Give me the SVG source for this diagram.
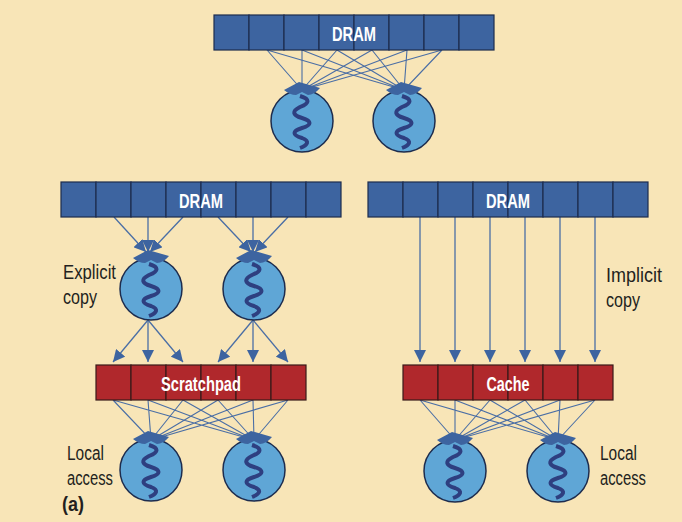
<svg xmlns="http://www.w3.org/2000/svg" xmlns:xlink="http://www.w3.org/1999/xlink" width="682" height="522" viewBox="0 0 682 522">
<style>
.dram{fill:#3d64a0;stroke:#1d2c4e;stroke-width:1.2}
.red{fill:#b0282c;stroke:#3a1a1a;stroke-width:1.2}
.lbl{font-family:"Liberation Sans",sans-serif;font-size:20px;fill:#231f20}
.wl{font-family:"Liberation Sans",sans-serif;font-size:21px;font-weight:bold;fill:#fff;text-anchor:middle}
.ln{stroke:#4a6ea5;stroke-width:1.1;fill:none}
.ar line{stroke:#4a6ea5;stroke-width:1.3;marker-end:url(#ah)}
</style>
<defs>
<marker id="ah" viewBox="0 0 10 10" refX="10" refY="5" markerWidth="12" markerHeight="12" orient="auto" markerUnits="userSpaceOnUse"><path d="M0,0 L10,5 L0,10 z" fill="#3d64a0"/></marker>
<g id="core">
<circle cx="0" cy="0" r="31" fill="#5fa6d6" stroke="#1d2c4e" stroke-width="1.5"/>
<path d="M-18,-31 L-3,-39 L18,-33 Q12,-26 6,-26 L0,-29 L-6,-26 Q-12,-26 -18,-31 z" fill="#3d64a0"/>
<path d="M-2,-25 C8,-22 8,-18 -2,-14 C-10,-10 -10,-6 0,-3 C10,0 10,4 0,7 C-10,10 -10,14 0,17 C8,20 6,24 -2,27" stroke="#2e3f80" stroke-width="4" fill="none"/>
</g>
</defs>
<rect width="682" height="522" fill="#f8e5b7"/>
<g id="connectors">
<path class="ln" d="M267,50L302,90M302,50L302,90M337,50L302,90M372,50L302,90M407,50L302,90M442,50L302,90"/>
<path class="ln" d="M267,50L404,90M302,50L404,90M337,50L404,90M372,50L404,90M407,50L404,90M442,50L404,90"/>
<g class="ar">
<line x1="114" y1="217" x2="146" y2="252"/><line x1="148" y1="217" x2="148" y2="252"/><line x1="183" y1="217" x2="150" y2="252"/>
<line x1="218" y1="217" x2="251" y2="252"/><line x1="253" y1="217" x2="253" y2="252"/><line x1="288" y1="217" x2="255" y2="252"/>
<line x1="148" y1="320" x2="113" y2="362"/><line x1="148" y1="320" x2="148" y2="362"/><line x1="148" y1="320" x2="183" y2="362"/>
<line x1="253" y1="320" x2="218" y2="362"/><line x1="253" y1="320" x2="253" y2="362"/><line x1="253" y1="320" x2="288" y2="362"/>
<line x1="420" y1="217" x2="420" y2="362"/><line x1="455" y1="217" x2="455" y2="362"/><line x1="490" y1="217" x2="490" y2="362"/>
<line x1="525" y1="217" x2="525" y2="362"/><line x1="560" y1="217" x2="560" y2="362"/><line x1="595" y1="217" x2="595" y2="362"/>
</g>
<path class="ln" d="M113,400L151,440M148,400L151,440M183,400L151,440M218,400L151,440M253,400L151,440M288,400L151,440M113,400L254,440M148,400L254,440M183,400L254,440M218,400L254,440M253,400L254,440M288,400L254,440"/>
<path class="ln" d="M420,400L455,440M455,400L455,440M490,400L455,440M525,400L455,440M560,400L455,440M595,400L455,440M420,400L558,440M455,400L558,440M490,400L558,440M525,400L558,440M560,400L558,440M595,400L558,440"/>
</g>
<g id="dram-top">
<rect class="dram" x="214" y="15" width="35" height="35"/><rect class="dram" x="249" y="15" width="35" height="35"/><rect class="dram" x="284" y="15" width="35" height="35"/><rect class="dram" x="319" y="15" width="35" height="35"/><rect class="dram" x="354" y="15" width="35" height="35"/><rect class="dram" x="389" y="15" width="35" height="35"/><rect class="dram" x="424" y="15" width="35" height="35"/><rect class="dram" x="459" y="15" width="35" height="35"/>
<text class="wl" x="354" y="41" textLength="44" lengthAdjust="spacingAndGlyphs">DRAM</text>
</g>
<g id="dram-left">
<rect class="dram" x="61" y="182" width="35" height="35"/><rect class="dram" x="96" y="182" width="35" height="35"/><rect class="dram" x="131" y="182" width="35" height="35"/><rect class="dram" x="166" y="182" width="35" height="35"/><rect class="dram" x="201" y="182" width="35" height="35"/><rect class="dram" x="236" y="182" width="35" height="35"/><rect class="dram" x="271" y="182" width="35" height="35"/><rect class="dram" x="306" y="182" width="35" height="35"/>
<text class="wl" x="201" y="208" textLength="44" lengthAdjust="spacingAndGlyphs">DRAM</text>
</g>
<g id="dram-right">
<rect class="dram" x="368" y="182" width="35" height="35"/><rect class="dram" x="403" y="182" width="35" height="35"/><rect class="dram" x="438" y="182" width="35" height="35"/><rect class="dram" x="473" y="182" width="35" height="35"/><rect class="dram" x="508" y="182" width="35" height="35"/><rect class="dram" x="543" y="182" width="35" height="35"/><rect class="dram" x="578" y="182" width="35" height="35"/><rect class="dram" x="613" y="182" width="35" height="35"/>
<text class="wl" x="508" y="208" textLength="44" lengthAdjust="spacingAndGlyphs">DRAM</text>
</g>
<g id="scratchpad">
<rect class="red" x="96" y="365" width="35" height="35"/><rect class="red" x="131" y="365" width="35" height="35"/><rect class="red" x="166" y="365" width="35" height="35"/><rect class="red" x="201" y="365" width="35" height="35"/><rect class="red" x="236" y="365" width="35" height="35"/><rect class="red" x="271" y="365" width="35" height="35"/>
<text class="wl" x="201" y="391" textLength="80" lengthAdjust="spacingAndGlyphs">Scratchpad</text>
</g>
<g id="cache">
<rect class="red" x="403" y="365" width="35" height="35"/><rect class="red" x="438" y="365" width="35" height="35"/><rect class="red" x="473" y="365" width="35" height="35"/><rect class="red" x="508" y="365" width="35" height="35"/><rect class="red" x="543" y="365" width="35" height="35"/><rect class="red" x="578" y="365" width="35" height="35"/>
<text class="wl" x="508" y="391" textLength="43" lengthAdjust="spacingAndGlyphs">Cache</text>
</g>
<g id="cores">
<use xlink:href="#core" x="302" y="121"/><use xlink:href="#core" x="404" y="121"/>
<use xlink:href="#core" x="151" y="289"/><use xlink:href="#core" x="254" y="289"/>
<use xlink:href="#core" x="151" y="470"/><use xlink:href="#core" x="254" y="470"/>
<use xlink:href="#core" x="455" y="471"/><use xlink:href="#core" x="558" y="471"/>
</g>
<g id="labels">
<text class="lbl" x="63" y="279" textLength="53" lengthAdjust="spacingAndGlyphs">Explicit</text>
<text class="lbl" x="63" y="304" textLength="34" lengthAdjust="spacingAndGlyphs">copy</text>
<text class="lbl" x="606" y="282" textLength="56" lengthAdjust="spacingAndGlyphs">Implicit</text>
<text class="lbl" x="606" y="307" textLength="34" lengthAdjust="spacingAndGlyphs">copy</text>
<text class="lbl" x="67" y="460" textLength="37" lengthAdjust="spacingAndGlyphs">Local</text>
<text class="lbl" x="67" y="485" textLength="46" lengthAdjust="spacingAndGlyphs">access</text>
<text class="lbl" x="600" y="460" textLength="37" lengthAdjust="spacingAndGlyphs">Local</text>
<text class="lbl" x="600" y="485" textLength="46" lengthAdjust="spacingAndGlyphs">access</text>
<text class="lbl" x="62" y="511" font-weight="bold" textLength="22" lengthAdjust="spacingAndGlyphs">(a)</text>
</g>
</svg>
